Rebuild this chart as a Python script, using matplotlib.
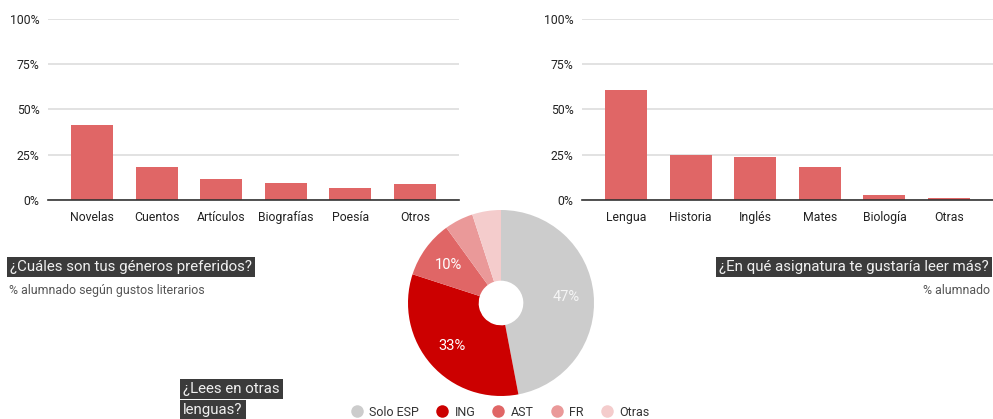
import matplotlib
matplotlib.use("Agg")
import matplotlib.pyplot as plt
from matplotlib.ticker import FuncFormatter
from matplotlib.lines import Line2D

plt.rcParams['font.family'] = ['Roboto', 'DejaVu Sans']

generos = ["Novelas", "Cuentos", "Artículos", "Biografías", "Poesía", "Otros"]
generos_vals = [41.6, 18.4, 11.6, 9.6, 6.8, 8.8]

asignaturas = ["Lengua", "Historia", "Inglés", "Mates", "Biología", "Otras"]
asignaturas_vals = [60.8, 24.7, 23.8, 18.4, 2.8, 1.3]

lenguas = ["Solo ESP", "ING", "AST", "FR", "Otras"]
lenguas_vals = [47, 33, 10, 5, 5]
lenguas_colors = ["#cccccc", "#cc0000", "#e06666", "#ea9999", "#f4cccc"]

yticks = [0, 25, 50, 75, 100]

BAR = "#e06666"
W, H = 993, 419
fig = plt.figure(figsize=(W / 100, H / 100), dpi=100)
fig.patch.set_facecolor("white")


def bar_axes(left, cats, vals):
    ax = fig.add_axes([left / W, (H - 200) / H, 411 / W, 181 / H])
    x = list(range(len(cats)))
    ax.bar(x, vals, width=0.65, color=BAR, zorder=3)
    ax.set_xlim(-0.68, len(cats) - 1 + 0.68)
    ax.set_ylim(0, 100)
    ax.set_yticks(yticks)
    ax.yaxis.set_major_formatter(FuncFormatter(lambda v, p: f"{int(v)}%"))
    ax.set_xticks(x)
    ax.set_xticklabels(cats)
    ax.grid(axis="y", color="#dddddd", linewidth=1.2, zorder=0)
    for s in ["top", "right", "left"]:
        ax.spines[s].set_visible(False)
    ax.spines["bottom"].set_color("#333333")
    ax.spines["bottom"].set_linewidth(1.2)
    ax.spines["bottom"].set_zorder(4)
    ax.tick_params(axis="both", length=0, labelsize=8.8, colors="#222222")
    ax.tick_params(axis="x", pad=8)
    ax.tick_params(axis="y", pad=6)
    ax.set_facecolor("none")
    return ax


bar_axes(48, generos, generos_vals)
bar_axes(582, asignaturas, asignaturas_vals)

TFS = 10.8
box = dict(boxstyle="square,pad=0.2", facecolor="#3b3b3b", edgecolor="none")
fig.text(10 / W, 1 - 267 / H, "¿Cuáles son tus géneros preferidos?", fontsize=TFS,
         color="#f0f0f0", va="center", ha="left", bbox=box)
fig.text(9 / W, 1 - 290 / H, "% alumnado según gustos literarios", fontsize=8.9,
         color="#555555", va="center", ha="left")
fig.text(989 / W, 1 - 267 / H, "¿En qué asignatura te gustaría leer más?", fontsize=TFS,
         color="#f0f0f0", va="center", ha="right", bbox=box)
fig.text(990 / W, 1 - 290 / H, "% alumnado", fontsize=8.9,
         color="#555555", va="center", ha="right")
fig.text(183 / W, 1 - 389 / H, "¿Lees en otras", fontsize=TFS,
         color="#f0f0f0", va="center", ha="left", bbox=box)
fig.text(183 / W, 1 - 410 / H, "lenguas?", fontsize=TFS,
         color="#f0f0f0", va="center", ha="left", bbox=box)

# Donut
pax = fig.add_axes([408 / W, (H - 396) / H, 186 / W, 186 / H])
wedges, texts, autotexts = pax.pie(
    lenguas_vals, colors=lenguas_colors, startangle=90, counterclock=False,
    autopct=lambda p: f"{p:.0f}%" if p >= 9.5 else "", pctdistance=0.70,
    wedgeprops=dict(width=0.76, edgecolor="none"),
    textprops=dict(color="white", fontsize=10.5))
autotexts[0].set_color("#f5f5f5")
pax.set_xlim(-1, 1)
pax.set_ylim(-1, 1)
pax.set_aspect("equal")

handles = [Line2D([], [], marker="o", linestyle="none", markersize=9,
                  markerfacecolor=c, markeredgecolor="none") for c in lenguas_colors]
fig.legend(handles, lenguas, loc="center", bbox_to_anchor=(500 / W, 1 - 412 / H),
           ncol=5, frameon=False, fontsize=9, handlelength=1.0, handletextpad=0.5,
           columnspacing=1.35, labelcolor="#333333", borderpad=0)

fig.savefig("out.png", dpi=100, facecolor="white")
